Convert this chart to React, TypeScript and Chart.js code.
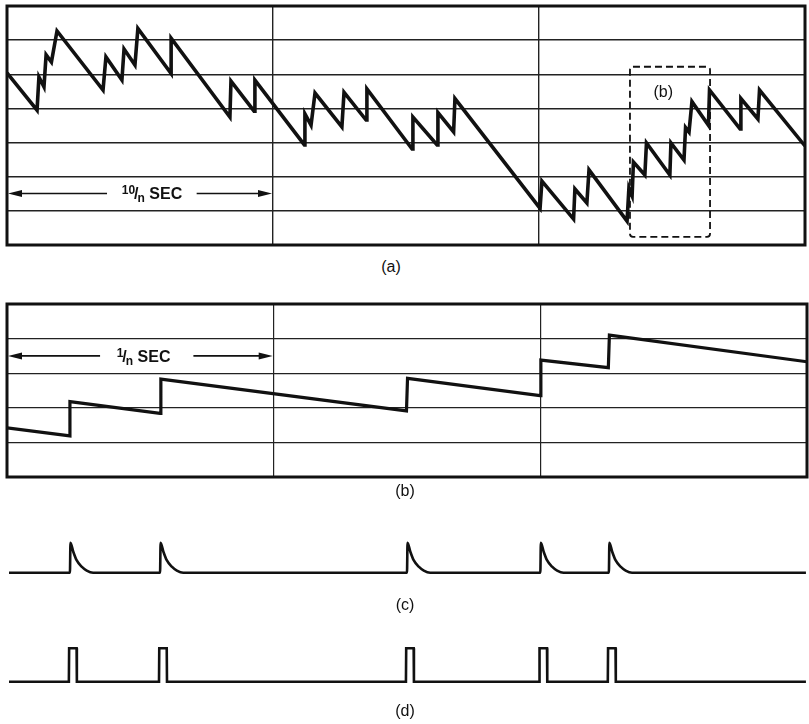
import React, { useEffect, useRef } from "react";
import { Chart, registerables } from "chart.js";
Chart.register(...registerables);

// ---------- data (x in horizontal grid divisions, y in vertical grid divisions) ----------
// (a) long record of the sawtooth
const aX = [0.0, 0.113, 0.12, 0.139, 0.147, 0.167, 0.188, 0.361, 0.372, 0.432, 0.44, 0.481, 0.492, 0.617, 0.617,
  0.838, 0.842, 0.929, 0.932, 1.118, 1.12, 1.143, 1.158, 1.259, 1.267, 1.35, 1.353, 1.523, 1.526, 1.617, 1.62,
  1.679, 1.684, 2.004, 2.011, 2.13, 2.135, 2.18, 2.188, 2.331, 2.338, 2.35, 2.355, 2.398, 2.404, 2.492, 2.496,
  2.545, 2.551, 2.564, 2.575, 2.637, 2.641, 2.756, 2.759, 2.823, 2.829, 3.0];
const aY = [5.04, 3.95, 4.92, 4.63, 5.57, 5.36, 6.27, 4.54, 5.51, 4.83, 5.74, 5.27, 6.34, 5.02, 6.06,
  3.75, 4.8, 3.92, 4.83, 2.93, 3.84, 3.51, 4.45, 3.46, 4.47, 3.66, 4.57, 2.81, 3.75, 2.93, 3.88,
  3.31, 4.29, 1.07, 1.87, 0.76, 1.64, 1.23, 2.2, 0.7, 1.67, 1.44, 2.43, 2.05, 2.99, 2.05, 2.99,
  2.49, 3.44, 3.31, 4.2, 3.51, 4.54, 3.4, 4.29, 3.69, 4.54, 2.9];

// (b) expanded portion
const bX = [0.0, 0.236, 0.236, 0.574, 0.577, 1.498, 1.502, 1.999, 2.002, 2.255, 2.259, 3.0];
const bY = [1.42, 1.19, 2.18, 1.84, 2.83, 1.91, 2.85, 2.35, 3.38, 3.16, 4.1, 3.33];

// (c) / (d) pulse trains
const pulseTimes = [0.236, 0.574, 1.5, 2.0, 2.257];
const decayDx = [0, 0.002, 0.0125, 0.025, 0.044, 0.063, 0.087];
const decayY = [0, 1, 0.7, 0.42, 0.2, 0.07, 0];
const gateDx = [-0.004, -0.003, 0.025, 0.026];
const gateY = [0, 1, 1, 0];
const traceStart = 0.0075;
const traceEnd = 2.996;

// labels
const panelLabels = ["(a)", "(b)", "(c)", "(d)"];
const aArrowText = { num: "10", den: "n", unit: "SEC" };
const bArrowText = { num: "1", den: "n", unit: "SEC" };

// ---------- helpers ----------
const INK = "#111";

const zip = (xs: number[], ys: number[]) => xs.map((x, i) => ({ x, y: ys[i] }));

const buildTrain = (dx: number[], dy: number[]) => {
  const pts: { x: number; y: number }[] = [{ x: traceStart, y: 0 }];
  pulseTimes.forEach((t) => dx.forEach((d, i) => pts.push({ x: t + d, y: dy[i] })));
  pts.push({ x: traceEnd, y: 0 });
  return pts;
};

const framePlugin = {
  id: "frame",
  beforeDatasetsDraw(chart: any) {
    const { ctx, chartArea: a } = chart;
    ctx.save();
    ctx.strokeStyle = INK;
    ctx.lineWidth = 3;
    ctx.strokeRect(a.left, a.top, a.right - a.left, a.bottom - a.top);
    ctx.restore();
  },
};

const arrowPlugin = (cfg: { y: number; l1: number; r0: number; tc: number; txt: { num: string; den: string; unit: string } }) => ({
  id: "arrow",
  afterDatasetsDraw(chart: any) {
    const { ctx } = chart;
    const xs = chart.scales.x;
    const ys = chart.scales.y;
    const y = ys.getPixelForValue(cfg.y);
    const x0 = xs.getPixelForValue(0) + 1;
    const x1 = xs.getPixelForValue(1) - 1;
    const xl = xs.getPixelForValue(cfg.l1);
    const xr = xs.getPixelForValue(cfg.r0);
    ctx.save();
    ctx.strokeStyle = INK;
    ctx.fillStyle = INK;
    ctx.lineWidth = 1.6;
    ctx.beginPath();
    ctx.moveTo(x0 + 10, y);
    ctx.lineTo(xl, y);
    ctx.moveTo(xr, y);
    ctx.lineTo(x1 - 10, y);
    ctx.stroke();
    ctx.beginPath();
    ctx.moveTo(x0, y);
    ctx.lineTo(x0 + 14, y - 3.5);
    ctx.lineTo(x0 + 14, y + 3.5);
    ctx.closePath();
    ctx.fill();
    ctx.beginPath();
    ctx.moveTo(x1, y);
    ctx.lineTo(x1 - 14, y - 3.5);
    ctx.lineTo(x1 - 14, y + 3.5);
    ctx.closePath();
    ctx.fill();
    // text: num / den  UNIT
    const small = "bold 12px 'Liberation Sans', Arial, sans-serif";
    const big = "bold 16px 'Liberation Sans', Arial, sans-serif";
    ctx.font = small;
    const wn = ctx.measureText(cfg.txt.num).width;
    const wd = ctx.measureText(cfg.txt.den).width;
    ctx.font = big;
    const ws = ctx.measureText("/").width;
    const wu = ctx.measureText(" " + cfg.txt.unit).width;
    const total = wn + ws - 2 + wd + wu;
    let x = xs.getPixelForValue(cfg.tc) - total / 2;
    ctx.textBaseline = "alphabetic";
    ctx.textAlign = "left";
    ctx.font = small;
    ctx.fillText(cfg.txt.num, x, y + 1);
    x += wn - 1;
    ctx.font = big;
    ctx.fillText("/", x, y + 6);
    x += ws - 1;
    ctx.font = small;
    ctx.fillText(cfg.txt.den, x, y + 9);
    x += wd;
    ctx.font = big;
    ctx.fillText(" " + cfg.txt.unit, x, y + 6);
    ctx.restore();
  },
});

const dashedBoxPlugin = {
  id: "dashbox",
  afterDatasetsDraw(chart: any) {
    const { ctx } = chart;
    const xs = chart.scales.x;
    const ys = chart.scales.y;
    const l = xs.getPixelForValue(2.342);
    const r = xs.getPixelForValue(2.643);
    const t = ys.getPixelForValue(5.22);
    const b = ys.getPixelForValue(0.24);
    ctx.save();
    ctx.strokeStyle = INK;
    ctx.lineWidth = 1.8;
    ctx.setLineDash([7, 4]);
    ctx.beginPath();
    if ((ctx as any).roundRect) (ctx as any).roundRect(l, t, r - l, b - t, 3);
    else ctx.rect(l, t, r - l, b - t);
    ctx.stroke();
    ctx.setLineDash([]);
    ctx.fillStyle = INK;
    ctx.font = "16px 'Liberation Sans', Arial, sans-serif";
    ctx.textAlign = "center";
    ctx.textBaseline = "middle";
    ctx.fillText(panelLabels[1], xs.getPixelForValue(2.467), ys.getPixelForValue(4.45));
    ctx.restore();
  },
};

const gridScale = (max: number, lw: number) => ({
  type: "linear",
  min: 0,
  max,
  display: true,
  ticks: { display: false, stepSize: 1 },
  grid: { color: "#222", lineWidth: lw, drawTicks: false },
  border: { display: false },
});

const hiddenScale = (min: number, max: number) => ({ type: "linear", min, max, display: false });

const makeConfig = (data: any[], lw: number, padding: any, scales: any, plugins: any[], smooth = false) => ({
  type: "line",
  data: {
    datasets: [
      {
        data,
        borderColor: INK,
        borderWidth: lw,
        pointRadius: 0,
        tension: 0,
        cubicInterpolationMode: smooth ? "monotone" : "default",
        borderJoinStyle: smooth ? "round" : "miter",
        fill: false,
      },
    ],
  },
  options: {
    animation: false,
    responsive: false,
    devicePixelRatio: 1,
    events: [],
    layout: { padding },
    plugins: { legend: { display: false }, tooltip: { enabled: false } },
    scales,
  },
  plugins,
});

function Panel({ top, height, config }: { top: number; height: number; config: any }) {
  const ref = useRef<HTMLCanvasElement | null>(null);
  useEffect(() => {
    if (!ref.current) return;
    const ch = new Chart(ref.current, config);
    return () => ch.destroy();
  }, [config]);
  return (
    <canvas
      ref={ref}
      width={809}
      height={height}
      style={{ position: "absolute", left: 0, top, width: 809, height, display: "block" }}
    />
  );
}

const cfgA = makeConfig(
  zip(aX, aY),
  3.6,
  { left: 7, top: 6, right: 4, bottom: 7 },
  { x: gridScale(3, 1.4), y: gridScale(7, 1.4) },
  [framePlugin, arrowPlugin({ y: 1.51, l1: 0.376, r0: 0.713, tc: 0.545, txt: aArrowText }), dashedBoxPlugin]
);

const cfgB = makeConfig(
  zip(bX, bY),
  3.2,
  { left: 7, top: 8, right: 2, bottom: 7 },
  { x: gridScale(3, 1.2), y: gridScale(5, 1.2) },
  [framePlugin, arrowPlugin({ y: 3.5, l1: 0.349, r0: 0.699, tc: 0.512, txt: bArrowText })]
);

const cfgC = makeConfig(
  buildTrain(decayDx, decayY),
  2.6,
  { left: 7, top: 7.7, right: 2, bottom: 22.3 },
  { x: hiddenScale(0, 3), y: hiddenScale(-0.5, 1.5) },
  [],
  true
);

const cfgD = makeConfig(
  buildTrain(gateDx, gateY),
  2.6,
  { left: 7, top: 6.6, right: 2, bottom: 6.6 },
  { x: hiddenScale(0, 3), y: hiddenScale(-0.5, 1.5) },
  []
);

const labelPos = [
  { x: 391, y: 268 },
  { x: 405, y: 492 },
  { x: 405, y: 606 },
  { x: 405, y: 712 },
];

export default function App() {
  return (
    <div style={{ position: "absolute", left: 0, top: 0, width: 809, height: 724, background: "#fff", overflow: "hidden" }}>
      <Panel top={0} height={252} config={cfgA} />
      <Panel top={296} height={188} config={cfgB} />
      <Panel top={520} height={90} config={cfgC} />
      <Panel top={625} height={80} config={cfgD} />
      {panelLabels.map((t, i) => (
        <div
          key={t}
          style={{
            position: "absolute",
            left: labelPos[i].x - 30,
            top: labelPos[i].y - 10,
            width: 60,
            height: 20,
            lineHeight: "20px",
            textAlign: "center",
            font: "16px 'Liberation Sans', Arial, sans-serif",
            color: INK,
          }}
        >
          {t}
        </div>
      ))}
    </div>
  );
}
